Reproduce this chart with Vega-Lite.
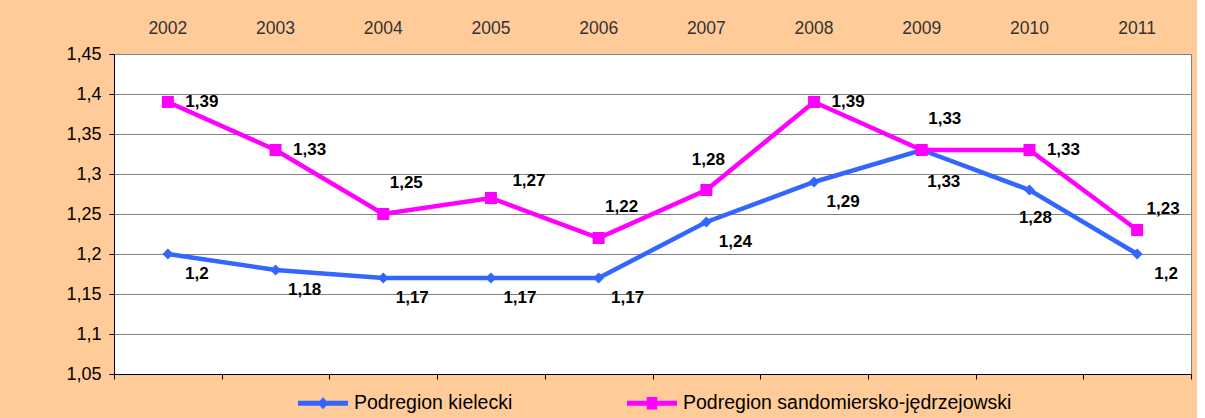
{
  "$schema": "https://vega.github.io/schema/vega-lite/v6.json",
  "width": 1077,
  "height": 320,
  "padding": {"left": 65, "top": 19, "right": 5, "bottom": 5},
  "background": "#FFCC99",
  "config": {
    "locale": {"number": {"decimal": ",", "thousands": " ", "grouping": [3], "currency": ["", " zł"]}},
    "view": {"fill": "white", "stroke": "#808080", "strokeWidth": 1},
    "font": "Liberation Sans"
  },
  "data": {
    "values": [
      {"year": "2002", "region": "Podregion kielecki", "value": 1.2},
      {"year": "2003", "region": "Podregion kielecki", "value": 1.18},
      {"year": "2004", "region": "Podregion kielecki", "value": 1.17},
      {"year": "2005", "region": "Podregion kielecki", "value": 1.17},
      {"year": "2006", "region": "Podregion kielecki", "value": 1.17},
      {"year": "2007", "region": "Podregion kielecki", "value": 1.24},
      {"year": "2008", "region": "Podregion kielecki", "value": 1.29},
      {"year": "2009", "region": "Podregion kielecki", "value": 1.33},
      {"year": "2010", "region": "Podregion kielecki", "value": 1.28},
      {"year": "2011", "region": "Podregion kielecki", "value": 1.2},
      {"year": "2002", "region": "Podregion sandomiersko-jędrzejowski", "value": 1.39},
      {"year": "2003", "region": "Podregion sandomiersko-jędrzejowski", "value": 1.33},
      {"year": "2004", "region": "Podregion sandomiersko-jędrzejowski", "value": 1.25},
      {"year": "2005", "region": "Podregion sandomiersko-jędrzejowski", "value": 1.27},
      {"year": "2006", "region": "Podregion sandomiersko-jędrzejowski", "value": 1.22},
      {"year": "2007", "region": "Podregion sandomiersko-jędrzejowski", "value": 1.28},
      {"year": "2008", "region": "Podregion sandomiersko-jędrzejowski", "value": 1.39},
      {"year": "2009", "region": "Podregion sandomiersko-jędrzejowski", "value": 1.33},
      {"year": "2010", "region": "Podregion sandomiersko-jędrzejowski", "value": 1.33},
      {"year": "2011", "region": "Podregion sandomiersko-jędrzejowski", "value": 1.23}
    ]
  },
  "encoding": {
    "x": {"field": "year", "type": "ordinal", "bandPosition": 0.5, "scale": {"type": "band", "paddingInner": 0, "paddingOuter": 0}, "axis": null},
    "y": {
      "field": "value", "type": "quantitative",
      "scale": {"domain": [1.05, 1.45], "nice": false, "zero": false},
      "axis": {
        "values": [1.05, 1.1, 1.15, 1.2, 1.25, 1.3, 1.35, 1.4, 1.45],
        "format": ".3~g", "title": null, "grid": true, "gridColor": "#808080", "gridOpacity": 1, "gridWidth": 1,
        "domainColor": "black", "tickColor": "black", "tickSize": 5, "labelPadding": 8,
        "labelFontSize": 18, "labelColor": "black"
      }
    }
  },
  "layer": [
    {
      "mark": {"type": "point", "filled": true, "opacity": 0},
      "encoding": {
        "fill": {"field": "region", "type": "nominal",
          "scale": {"domain": ["Podregion kielecki", "Podregion sandomiersko-jędrzejowski"], "range": ["#3366FF", "#FF00FF"]},
          "legend": {"title": null, "orient": "none", "legendX": 184, "legendY": 324, "direction": "horizontal", "columns": 2,
            "symbolSize": 2500, "symbolStrokeWidth": 0, "symbolOpacity": 1, "labelFontSize": 19.5, "labelColor": "black", "labelOffset": 6, "columnPadding": 114, "labelLimit": 500}},
        "shape": {"field": "region", "type": "nominal",
          "scale": {"domain": ["Podregion kielecki", "Podregion sandomiersko-jędrzejowski"],
            "range": ["M-1,-0.1H1V0.1H-1Z M0,-0.24L0.22,0L0,0.24L-0.22,0Z", "M-1,-0.1H1V0.1H-1Z M-0.21,-0.25H0.21V0.25H-0.21Z"]},
          "legend": {"title": null, "orient": "none", "legendX": 184, "legendY": 324, "direction": "horizontal", "columns": 2,
            "symbolSize": 2500, "symbolStrokeWidth": 0, "symbolOpacity": 1, "labelFontSize": 19.5, "labelColor": "black", "labelOffset": 6, "columnPadding": 114, "labelLimit": 500}}
      }
    },
    {
      "mark": {"type": "line", "strokeWidth": 4.5},
      "encoding": {
        "x": {"field": "year", "type": "ordinal", "bandPosition": 0.5, "scale": {"type": "band", "paddingInner": 0, "paddingOuter": 0},
          "axis": {"orient": "top", "ticks": false, "domain": false, "labelAngle": 0, "labelPadding": 17, "labelFontSize": 17.5, "labelColor": "#333333", "title": null, "grid": false}},
        "color": {"field": "region", "type": "nominal", "scale": {"domain": ["Podregion kielecki", "Podregion sandomiersko-jędrzejowski"], "range": ["#3366FF", "#FF00FF"]}, "legend": null}
      }
    },
    {
      "transform": [{"filter": "datum.region == 'Podregion kielecki'"}],
      "mark": {"type": "point", "shape": "diamond", "filled": true, "size": 121, "color": "#3366FF", "opacity": 1},
      "encoding": {
        "x": {"field": "year", "type": "ordinal", "bandPosition": 0.5, "scale": {"type": "band", "paddingInner": 0, "paddingOuter": 0},
          "axis": {"orient": "bottom", "labels": false, "title": null, "grid": false, "tickBand": "extent", "ticks": true, "tickSize": 5, "tickColor": "black", "domainColor": "black", "zindex": 1}}
      }
    },
    {
      "transform": [{"filter": "datum.region != 'Podregion kielecki'"}],
      "mark": {"type": "point", "shape": "square", "filled": true, "size": 144, "color": "#FF00FF", "opacity": 1}
    },
    {
      "transform": [{"filter": "datum.region == 'Podregion kielecki' && datum.year != '2009' && datum.year != '2010'"}],
      "mark": {"type": "text", "fontWeight": "bold", "fontSize": 17, "align": "center", "baseline": "middle", "dx": 29, "dy": 20, "color": "black"},
      "encoding": {"text": {"field": "value", "type": "quantitative", "format": ".3~g"}}
    },
    {
      "transform": [{"filter": "datum.region == 'Podregion kielecki' && datum.year == '2009'"}],
      "mark": {"type": "text", "fontWeight": "bold", "fontSize": 17, "align": "center", "baseline": "middle", "dx": 22, "dy": 32, "color": "black"},
      "encoding": {"text": {"field": "value", "type": "quantitative", "format": ".3~g"}}
    },
    {
      "transform": [{"filter": "datum.region == 'Podregion kielecki' && datum.year == '2010'"}],
      "mark": {"type": "text", "fontWeight": "bold", "fontSize": 17, "align": "center", "baseline": "middle", "dx": 6, "dy": 28, "color": "black"},
      "encoding": {"text": {"field": "value", "type": "quantitative", "format": ".3~g"}}
    },
    {
      "transform": [{"filter": "datum.region != 'Podregion kielecki' && indexof(['2002','2003','2008','2010'], datum.year) >= 0"}],
      "mark": {"type": "text", "fontWeight": "bold", "fontSize": 17, "align": "center", "baseline": "middle", "dx": 34, "dy": 0, "color": "black"},
      "encoding": {"text": {"field": "value", "type": "quantitative", "format": ".3~g"}}
    },
    {
      "transform": [{"filter": "datum.region != 'Podregion kielecki' && indexof(['2004','2006','2009'], datum.year) >= 0"}],
      "mark": {"type": "text", "fontWeight": "bold", "fontSize": 17, "align": "center", "baseline": "middle", "dx": 23, "dy": -31, "color": "black"},
      "encoding": {"text": {"field": "value", "type": "quantitative", "format": ".3~g"}}
    },
    {
      "transform": [{"filter": "datum.region != 'Podregion kielecki' && datum.year == '2005'"}],
      "mark": {"type": "text", "fontWeight": "bold", "fontSize": 17, "align": "center", "baseline": "middle", "dx": 38, "dy": -17, "color": "black"},
      "encoding": {"text": {"field": "value", "type": "quantitative", "format": ".3~g"}}
    },
    {
      "transform": [{"filter": "datum.region != 'Podregion kielecki' && datum.year == '2011'"}],
      "mark": {"type": "text", "fontWeight": "bold", "fontSize": 17, "align": "center", "baseline": "middle", "dx": 26, "dy": -21, "color": "black"},
      "encoding": {"text": {"field": "value", "type": "quantitative", "format": ".3~g"}}
    },
    {
      "transform": [{"filter": "datum.region != 'Podregion kielecki' && datum.year == '2007'"}],
      "mark": {"type": "text", "fontWeight": "bold", "fontSize": 17, "align": "center", "baseline": "middle", "dx": 2, "dy": -30, "color": "black"},
      "encoding": {"text": {"field": "value", "type": "quantitative", "format": ".3~g"}}
    }
  ],
  "resolve": {"axis": {"x": "independent"}}
}
